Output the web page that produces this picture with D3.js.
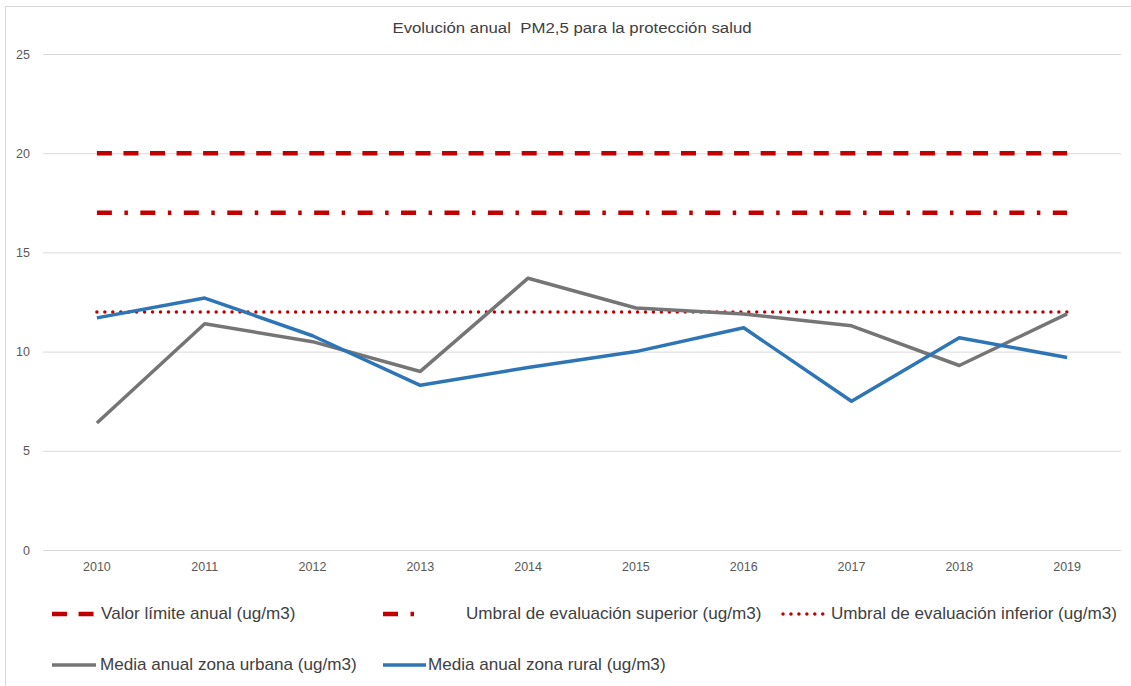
<!DOCTYPE html>
<meta charset="utf-8">
<script src="https://d3js.org/d3.v7.min.js"></script>
<style>
  body { margin: 0; background: #fff; }
  text { font-family: "Liberation Sans", Arial, sans-serif; }
</style>
<body>
<div id="my_dataviz"></div>

<script>
// data
const years = ["2010", "2011", "2012", "2013", "2014", "2015", "2016", "2017", "2018", "2019"];
const valorLimite = [20, 20, 20, 20, 20, 20, 20, 20, 20, 20];
const umbralSuperior = [17, 17, 17, 17, 17, 17, 17, 17, 17, 17];
const umbralInferior = [12, 12, 12, 12, 12, 12, 12, 12, 12, 12];
const mediaUrbana = [6.4, 11.4, 10.5, 9.0, 13.7, 12.2, 11.9, 11.3, 9.3, 11.9];
const mediaRural = [11.7, 12.7, 10.8, 8.3, 9.2, 10.0, 11.2, 7.5, 10.7, 9.7];
const yTicks = [0, 5, 10, 15, 20, 25];

const series = [
  {name: "Valor límite anual (ug/m3)", values: valorLimite, color: "#c00000", width: 4.5, dash: "15,11.55", cap: "butt"},
  {name: "Umbral de evaluación superior (ug/m3)", values: umbralSuperior, color: "#c00000", width: 4.5, dash: "15,12.5,3.5,12.45", cap: "butt"},
  {name: "Umbral de evaluación inferior (ug/m3)", values: umbralInferior, color: "#c00000", width: 3.5, dash: "0,7.95", cap: "round"},
  {name: "Media anual zona urbana (ug/m3)", values: mediaUrbana, color: "#757575", width: 3.5, dash: null, cap: "butt"},
  {name: "Media anual zona rural (ug/m3)", values: mediaRural, color: "#2e75b6", width: 3.5, dash: null, cap: "butt"}
];

// legend layout: [symbol x0, symbol x1, text x, baseline y]
const legendPos = [
  [52, 95, 101, 619],
  [383, 426, 466, 619],
  [783, 826, 831, 619],
  [52, 96, 100, 670],
  [383, 426, 428, 670]
];

const W = 1131, H = 686;
const plot = {left: 43, right: 1121, top: 54, bottom: 550};

const svg = d3.select("#my_dataviz")
  .append("svg")
    .attr("width", W)
    .attr("height", H);

// chart border
svg.append("rect")
  .attr("x", 5.5).attr("y", 6.5)
  .attr("width", W + 20).attr("height", H + 20)
  .attr("fill", "none")
  .attr("stroke", "#d9d9d9");

// title (source picture is a bit stretched sideways)
svg.append("text")
  .attr("transform", "translate(572,33) scale(1.12,1)")
  .attr("text-anchor", "middle")
  .attr("font-size", 15)
  .attr("fill", "#404040")
  .style("white-space", "pre")
  .text("Evolución anual  PM2,5 para la protección salud");

const x = d3.scaleBand()
  .domain(years)
  .range([plot.left, plot.right]);
const cx = d => x(d) + x.bandwidth() / 2;

const y = d3.scaleLinear()
  .domain([0, 25])
  .range([plot.bottom, plot.top]);

// Y axis with gridlines
const yAxis = svg.append("g")
  .attr("transform", `translate(${plot.left},0)`)
  .call(d3.axisLeft(y).tickValues(yTicks).tickSize(-(plot.right - plot.left)).tickPadding(13));
yAxis.select(".domain").remove();
yAxis.selectAll(".tick line").attr("stroke", "#d9d9d9");
yAxis.selectAll(".tick text")
  .attr("font-size", 12.5)
  .attr("fill", "#595959")
  .attr("font-family", "Liberation Sans, Arial, sans-serif");

// X axis labels
const xAxis = svg.append("g")
  .attr("transform", `translate(0,${plot.bottom})`)
  .call(d3.axisBottom(x).tickSize(0).tickPadding(12));
xAxis.select(".domain").remove();
xAxis.selectAll(".tick text")
  .attr("font-size", 12.5)
  .attr("fill", "#595959")
  .attr("font-family", "Liberation Sans, Arial, sans-serif");

// lines
const line = d3.line()
  .x((d, i) => cx(years[i]))
  .y(d => y(d));

svg.selectAll("path.series")
  .data(series)
  .join("path")
    .attr("class", "series")
    .attr("d", d => line(d.values))
    .attr("fill", "none")
    .attr("stroke", d => d.color)
    .attr("stroke-width", d => d.width)
    .attr("stroke-dasharray", d => d.dash)
    .attr("stroke-linecap", d => d.cap)
    .attr("stroke-linejoin", "round");

// legend
const leg = svg.selectAll("g.legend")
  .data(series)
  .join("g")
    .attr("class", "legend");

leg.append("line")
  .attr("x1", (d, i) => legendPos[i][0])
  .attr("x2", (d, i) => legendPos[i][1])
  .attr("y1", (d, i) => legendPos[i][3] - 5)
  .attr("y2", (d, i) => legendPos[i][3] - 5)
  .attr("stroke", d => d.color)
  .attr("stroke-width", d => d.width)
  .attr("stroke-dasharray", d => d.dash)
  .attr("stroke-linecap", d => d.cap);

leg.append("text")
  .attr("transform", (d, i) => `translate(${legendPos[i][2]},${legendPos[i][3]}) scale(1.07,1)`)
  .attr("font-size", 16)
  .attr("fill", "#404040")
  .text(d => d.name);
</script>
</body>
